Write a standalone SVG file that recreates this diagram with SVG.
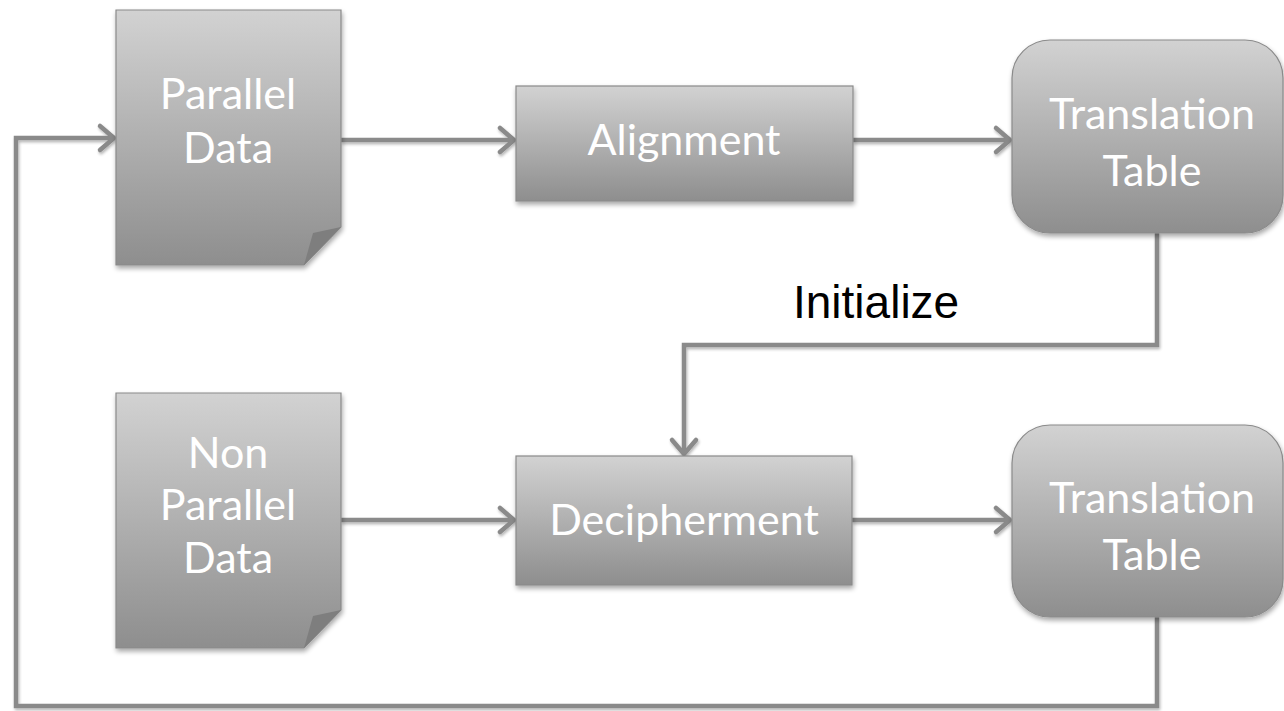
<svg xmlns="http://www.w3.org/2000/svg" width="1284" height="711" viewBox="0 0 1284 711">
  <defs>
    <linearGradient id="boxFill" x1="0" y1="0" x2="0" y2="1">
      <stop offset="0" stop-color="#d2d2d2"/>
      <stop offset="1" stop-color="#8e8e8e"/>
    </linearGradient>
    <filter id="shadow" x="-10%" y="-10%" width="125%" height="130%">
      <feGaussianBlur in="SourceAlpha" stdDeviation="2.5"/>
      <feOffset dx="1" dy="3" result="off"/>
      <feComponentTransfer><feFuncA type="linear" slope="0.35"/></feComponentTransfer>
      <feMerge><feMergeNode/><feMergeNode in="SourceGraphic"/></feMerge>
    </filter>
    <filter id="lineShadow" x="-5%" y="-5%" width="110%" height="110%">
      <feGaussianBlur in="SourceAlpha" stdDeviation="1.5"/>
      <feOffset dx="1" dy="2" result="off"/>
      <feComponentTransfer><feFuncA type="linear" slope="0.3"/></feComponentTransfer>
      <feMerge><feMergeNode/><feMergeNode in="SourceGraphic"/></feMerge>
    </filter>
    <marker id="arrow" markerUnits="userSpaceOnUse" viewBox="-16 -14 18 28" refX="0" refY="0" markerWidth="18" markerHeight="28" orient="auto" overflow="visible">
      <path d="M -14 -12 L 0 0 L -14 12" fill="none" stroke="#8a8a8a" stroke-width="4.5" stroke-linecap="round" stroke-linejoin="round"/>
    </marker>
  </defs>
  <style>
    .box { fill: url(#boxFill); stroke: #8a8a8a; stroke-width: 1.2; filter: url(#shadow); }
    .fold { fill: #7e7e7e; }
    .lbl { font-family: Lato, "Open Sans", sans-serif; font-size: 43px; fill: #ffffff; text-anchor: middle; }
    .conn { fill: none; stroke: #8a8a8a; stroke-width: 4.5; stroke-linejoin: miter; }
    .note { font-family: "Liberation Sans", Arial, sans-serif; font-size: 46px; fill: #000000; }
  </style>

  <rect width="1284" height="711" fill="#ffffff"/>

  <!-- connectors -->
  <g id="connectors" filter="url(#lineShadow)">
    <path class="conn" d="M 341 140 L 514 140" marker-end="url(#arrow)"/>
    <path class="conn" d="M 853 140 L 1010 140" marker-end="url(#arrow)"/>
    <path class="conn" d="M 1157 233 L 1157 345 L 684 345 L 684 454" marker-end="url(#arrow)"/>
    <path class="conn" d="M 341 520 L 514 520" marker-end="url(#arrow)"/>
    <path class="conn" d="M 852 520 L 1010 520" marker-end="url(#arrow)"/>
    <path class="conn" d="M 1157 617 L 1157 706 L 16 706 L 16 138 L 114 138" marker-end="url(#arrow)"/>
  </g>

  <!-- parallel data document -->
  <g id="parallel-data">
    <path class="box" d="M 116 10 L 341 10 L 341 227 L 304 265 L 116 265 Z"/>
    <path class="fold" d="M 341 227 L 313 233 L 304 265 Z"/>
    <text class="lbl" x="228" y="109">Parallel</text>
    <text class="lbl" x="228" y="163">Data</text>
  </g>

  <!-- alignment process -->
  <g id="alignment">
    <rect class="box" x="516" y="86" width="337" height="115"/>
    <text class="lbl" x="684" y="155">Alignment</text>
  </g>

  <!-- translation table produced by alignment -->
  <g id="translation-table-1">
    <rect class="box" x="1012" y="40" width="271" height="193" rx="38" ry="38"/>
    <text class="lbl" x="1152" y="129">Translation</text>
    <text class="lbl" x="1152" y="186">Table</text>
  </g>

  <!-- initialize label -->
  <g id="initialize-label">
    <text class="note" x="793" y="318">Initialize</text>
  </g>

  <!-- non parallel data document -->
  <g id="non-parallel-data">
    <path class="box" d="M 116 393 L 341 393 L 341 610 L 304 648 L 116 648 Z"/>
    <path class="fold" d="M 341 610 L 313 616 L 304 648 Z"/>
    <text class="lbl" x="228" y="468">Non</text>
    <text class="lbl" x="228" y="520">Parallel</text>
    <text class="lbl" x="228" y="573">Data</text>
  </g>

  <!-- decipherment process -->
  <g id="decipherment">
    <rect class="box" x="516" y="456" width="336" height="129"/>
    <text class="lbl" x="684" y="535">Decipherment</text>
  </g>

  <!-- translation table produced by decipherment -->
  <g id="translation-table-2">
    <rect class="box" x="1012" y="425" width="271" height="192" rx="38" ry="38"/>
    <text class="lbl" x="1152" y="513">Translation</text>
    <text class="lbl" x="1152" y="570">Table</text>
  </g>
</svg>
